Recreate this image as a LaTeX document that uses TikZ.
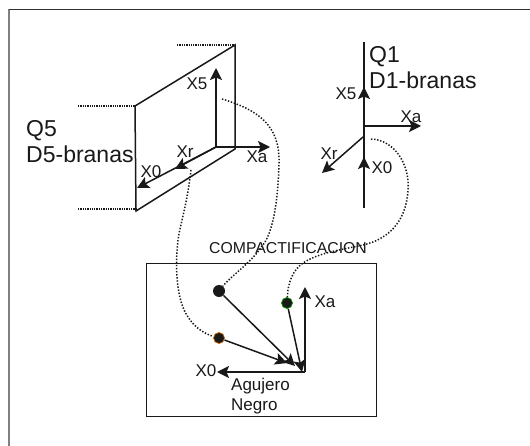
\documentclass[tikz,border=0pt]{standalone}
\usepackage{fontspec}
\setmainfont{Liberation Sans}
\usetikzlibrary{arrows.meta}
\tikzset{
  x=1pt,y=-1pt,
  frameA/.style={draw=black!80,line width=1.4pt},
  frameB/.style={draw=black!50,line width=1.6pt},
  brane/.style={draw=black!90,line width=1.5pt},
  axis/.style={draw=black!90,line width=1.5pt,-{Stealth[length=12pt,width=12pt,inset=2.5pt]}},
  axisthick/.style={axis,line width=2pt},
  guide/.style={draw=black!90,line width=1.5pt,dash pattern=on 1.3pt off 1pt},
  link/.style={draw=black!90,line width=1.5pt,dash pattern=on 1.4pt off 1.7pt},
  lab/.style={inner sep=0pt,text=black!90,font=\fontsize{17}{17}\selectfont},
  big/.style={inner sep=0pt,text=black!90,font=\fontsize{23}{26}\selectfont},
  dot/.style={circle,fill=black!90,minimum size=12pt,inner sep=0pt},
}
\begin{document}
\begin{tikzpicture}
\useasboundingbox (0,0) rectangle (530,446);
\fill[white] (0,0) rectangle (530,446);
\coordinate (fa) at (9,446); \coordinate (fb) at (9,9.5); \coordinate (fc) at (530,9.5);
\draw[frameB] (fa)--(fb);
\draw[frameA] (fb)--(fc);
% D5 plane
\coordinate (pa) at (135,106); \coordinate (pb) at (235,45);
\coordinate (pc) at (235,149); \coordinate (pd) at (136,211);
\coordinate (ga) at (78,106); \coordinate (gb) at (177,45); \coordinate (gd) at (78,209);
\coordinate (ge) at (136,209);
\draw[brane] (pa)--(pb)--(pc)--(pd)--cycle;
\draw[guide] (ga)--(pa); \draw[guide] (gb)--(pb); \draw[guide] (gd)--(ge);
\coordinate (o5) at (216,147);
\coordinate (x55) at (216,68); \coordinate (xa5) at (270,147);
\coordinate (x05) at (137,188); \coordinate (xr5) at (175,169);
\draw[axisthick] (o5)--(x55);
\draw[axis] (o5)--(xa5);
\draw[axis] (o5)--(x05);
\draw[axis] (o5)--(xr5);
\node[lab] (lx55) at (197,84) {X5};
\node[lab] (lxa5) at (257,157) {Xa};
\node[lab] (lxr5) at (185,152) {Xr};
\node[lab] (lx05) at (151,172) {X0};
\node[big,align=left,anchor=west] (q5) at (26,142) {Q5\\D5-branas};
% D1
\coordinate (ltop) at (364,42); \coordinate (lbot) at (364,208);
\draw[brane] (ltop)--(lbot);
\coordinate (o1) at (364,126); \coordinate (m1) at (364,157);
\coordinate (x51) at (364,87); \coordinate (xa1) at (421,126);
\coordinate (x01) at (364,157); \coordinate (xr1) at (322,173);
\coordinate (r1) at (363,137);
\draw[axisthick] (o1)--(x51);
\draw[axis] (o1)--(xa1);
\draw[axis] (lbot)--(x01);
\draw[axis] (r1)--(xr1);
\draw[brane,line width=2pt] (o1)--(m1);
\node[lab] (lx51) at (346,94) {X5};
\node[lab] (lxa1) at (411,117) {Xa};
\node[lab] (lxr1) at (329,154) {Xr};
\node[lab] (lx01) at (382,168) {X0};
\node[big,align=left,anchor=west] (q1) at (369,68) {Q1\\D1-branas};
% box
\node[draw=black!90,line width=1pt,minimum width=230pt,minimum height=152pt,inner sep=0pt] (box) at (261,340) {};
\node[lab,font=\fontsize{15.8}{16}\selectfont] (comp) at (288,248) {COMPACTIFICACION};
\coordinate (oc) at (305,372);
\coordinate (xac) at (305,287); \coordinate (x0c) at (217,372);
\coordinate (t1) at (295,366); \coordinate (t2) at (287,363); \coordinate (t3) at (302,372);
\node[dot] (d1) at (219,291) {};
\node[dot,draw=orange!80!black,line width=.7pt,minimum size=11pt] (d2) at (219,338) {};
\node[dot,draw=green!60!black,line width=.7pt,minimum size=11pt] (d3) at (287,303) {};
\draw[axis] (oc)--(xac);
\draw[axis] (oc)--(x0c);
\draw[axis] (d1)--(t1);
\draw[axis] (d2)--(t2);
\draw[axis] (d3)--(t3);
\node[lab] (lxac) at (325,302) {Xa};
\node[lab] (lx0c) at (206,371) {X0};
\node[lab,align=left,anchor=west,font=\fontsize{17}{20}\selectfont] (ag) at (231,396) {Agujero\\Negro};
% dotted links
\coordinate (s1) at (222,99); \coordinate (s2) at (191,170); \coordinate (s3) at (371,139);
\draw[link] (s1) .. controls (258,110) and (280,125) .. (279,163) .. controls (278,205) and (272,235) .. (262,246) .. controls (252,262) and (232,275) .. (d1);
\draw[link] (s2) .. controls (187,205) and (180,225) .. (178,240) .. controls (175,265) and (176,300) .. (188,317) .. controls (195,328) and (205,334) .. (d2);
\draw[link] (s3) .. controls (395,140) and (410,165) .. (408,190) .. controls (406,225) and (385,240) .. (363,245) .. controls (340,250) and (318,253) .. (303,263) .. controls (293,270) and (288,282) .. (d3);
\end{tikzpicture}
\end{document}
